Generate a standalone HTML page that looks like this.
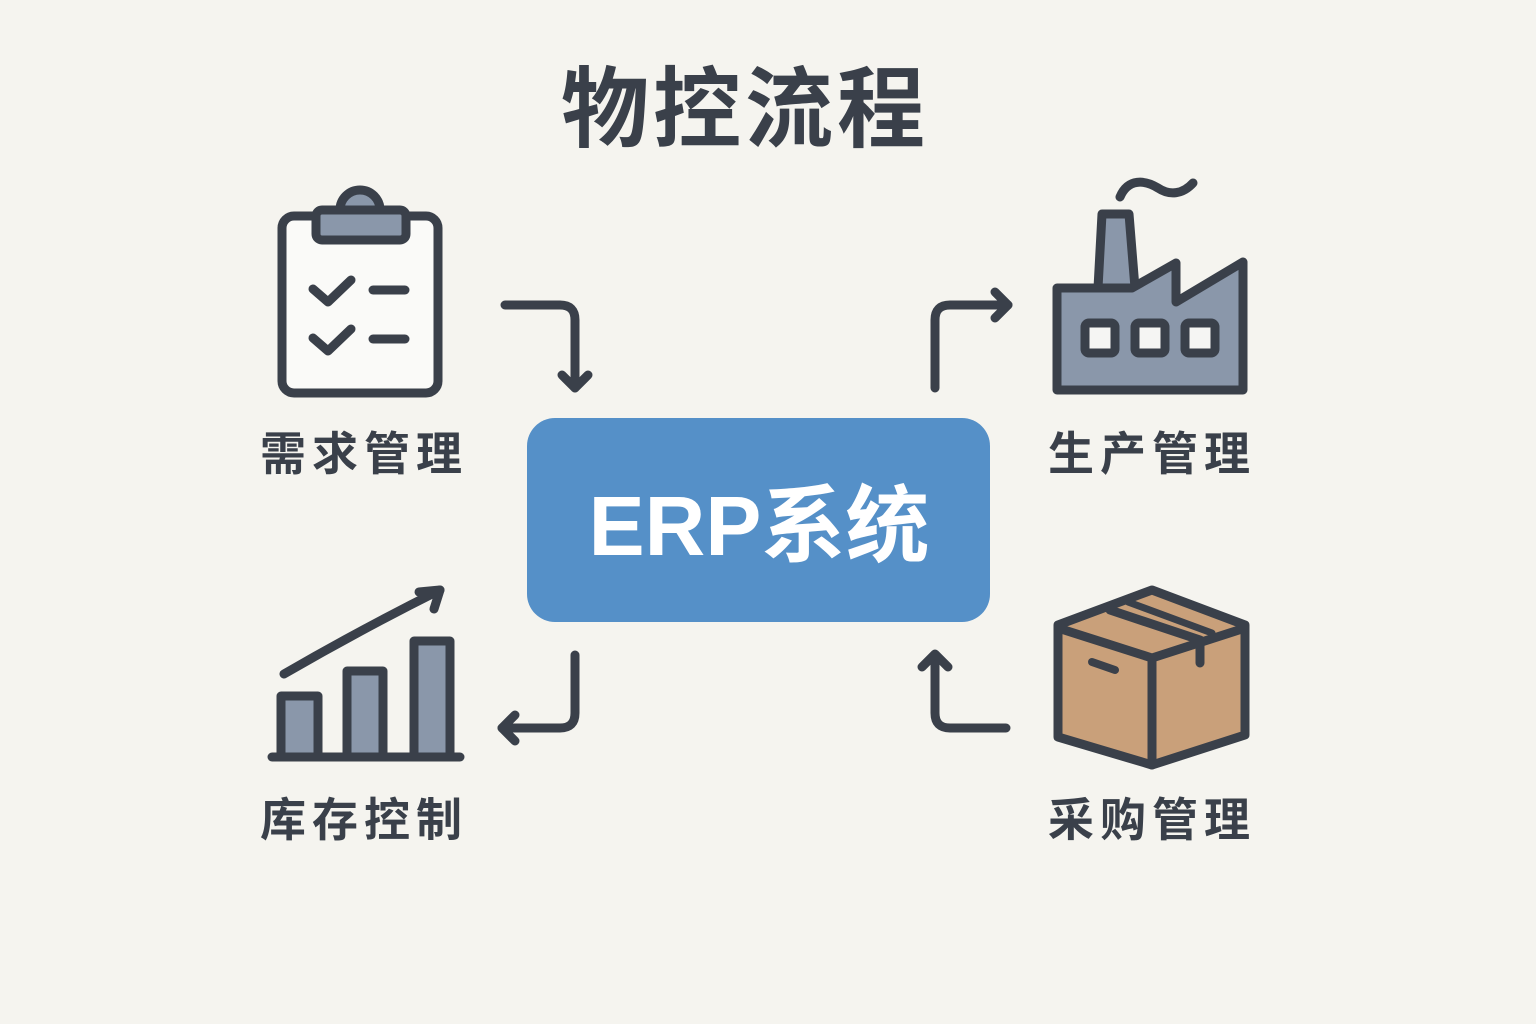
<!DOCTYPE html>
<html><head><meta charset="utf-8"><style>
html,body{margin:0;padding:0;background:#f5f4ef;}
svg{display:block}
</style></head><body>
<svg width="1536" height="1024" viewBox="0 0 1536 1024" xmlns="http://www.w3.org/2000/svg">
<rect width="1536" height="1024" fill="#f5f4ef"/>
<g font-family="Liberation Sans, Noto Sans CJK SC, sans-serif" fill="#3a404a">
<text x="745" y="140" font-size="88" font-weight="bold" text-anchor="middle" letter-spacing="4">物控流程</text>
<text x="364" y="470" font-size="46" font-weight="bold" text-anchor="middle" letter-spacing="6">需求管理</text>
<text x="1152" y="470" font-size="46" font-weight="bold" text-anchor="middle" letter-spacing="6">生产管理</text>
<text x="364" y="836" font-size="46" font-weight="bold" text-anchor="middle" letter-spacing="6">库存控制</text>
<text x="1152" y="836" font-size="46" font-weight="bold" text-anchor="middle" letter-spacing="6">采购管理</text>
</g>
<g fill="none" stroke="#3a404a" stroke-width="9" stroke-linecap="round" stroke-linejoin="round">
<rect x="282" y="216" width="156" height="177" rx="12" fill="#fafaf8"/>
<circle cx="360" cy="210" r="20" fill="#8a97aa"/>
<rect x="316" y="210" width="90" height="30" rx="6" fill="#8a97aa"/>
<path d="M313 289 L328 302 L351 280"/><path d="M373 290 L405 290"/>
<path d="M313 338 L328 351 L351 329"/><path d="M373 339 L405 339"/>
<path d="M505 305 L560 305 Q575 305 575 320 L575 388"/><path d="M562 375 L575 388 L588 375"/>
<path d="M1098 288 L1102 214 L1129 214 L1135 288 Z" fill="#8a97aa"/>
<path d="M1057 288 L1132 288 L1176 263 L1176 302 L1243 262 L1243 390 L1057 390 Z" fill="#8a97aa"/>
<rect x="1085" y="323" width="30" height="30" rx="4" fill="#f5f5f3"/>
<rect x="1135" y="323" width="30" height="30" rx="4" fill="#f5f5f3"/>
<rect x="1185" y="323" width="30" height="30" rx="4" fill="#f5f5f3"/>
<path d="M1120 197 C1128 178 1145 180 1158 188 C1170 196 1183 194 1193 183"/>
<path d="M935 388 L935 320 Q935 305 950 305 L1008 305"/><path d="M995 292 L1008 305 L995 318"/>
<path d="M272 757 L460 757"/>
<rect x="281" y="696" width="37" height="61" fill="#8a97aa"/>
<rect x="347" y="671" width="36" height="86" fill="#8a97aa"/>
<rect x="414" y="641" width="36" height="116" fill="#8a97aa"/>
<path d="M284 674 Q360 630 440 590"/><path d="M419 592 L440 590 L434 609"/>
<path d="M575 655 L575 713 Q575 728 560 728 L502 728"/><path d="M515 715 L502 728 L515 741"/>
<path d="M1152 590 L1245 625 L1245 735 L1152 765 L1058 737 L1058 625 Z" fill="#c9a07a"/>
<path d="M1058 628 L1152 658 L1245 628"/>
<path d="M1152 658 L1152 765"/>
<path d="M1110 610 L1200 640 L1200 663"/>
<path d="M1128 602 L1212 633" stroke-width="7"/>
<path d="M1092 662 L1115 670" stroke-width="8"/>
<path d="M1006 728 L950 728 Q935 728 935 713 L935 655"/><path d="M922 667 L935 654 L948 667"/>
</g>
<rect x="527" y="418" width="463" height="204" rx="28" fill="#5590c8"/>
<text x="759" y="555" font-family="Liberation Sans, Noto Sans CJK SC, sans-serif" font-size="84" font-weight="bold" fill="#ffffff" text-anchor="middle">ERP系统</text>
</svg>
</body></html>
